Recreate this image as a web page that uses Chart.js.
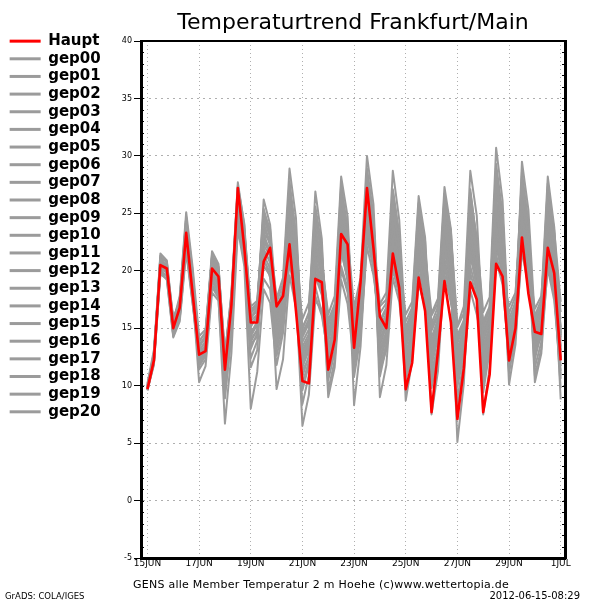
<!DOCTYPE html>
<html>
<head>
<meta charset="utf-8">
<script src="https://cdn.jsdelivr.net/npm/chart.js@4/dist/chart.umd.min.js"></script>
<style>html,body{margin:0;padding:0;background:#fff}#wrap{width:600px;height:600px}</style>
</head>
<body>
<div id="wrap"><canvas id="c" width="600" height="600"></canvas></div>
<script>
// time axis: hours since 15JUN 00Z, 6-hourly
const hours = [0,6,12,18,24,30,36,42,48,54,60,66,72,78,84,90,96,102,108,114,120,126,132,138,144,150,156,162,168,174,180,186,192,198,204,210,216,222,228,234,240,246,252,258,264,270,276,282,288,294,300,306,312,318,324,330,336,342,348,354,360,366,372,378,384];
const xTickHours = [0,48,96,144,192,240,288,336,384];
const xTickLabels = ['15JUN','17JUN','19JUN','21JUN','23JUN','25JUN','27JUN','29JUN','1JUL'];
const yTickValues = [-5,0,5,10,15,20,25,30,35,40];
const seriesNames = ['Haupt','gep00','gep01','gep02','gep03','gep04','gep05','gep06','gep07','gep08','gep09','gep10','gep11','gep12','gep13','gep14','gep15','gep16','gep17','gep18','gep19','gep20'];
const titleText = 'Temperaturtrend Frankfurt/Main';
const footerText = 'GENS alle Member Temperatur 2 m Hoehe (c)www.wettertopia.de';
const gradsText = 'GrADS: COLA/IGES';
const dateText = '2012-06-15-08:29';

const haupt = [9.7,12.2,20.5,20.2, 15.0,16.8,23.3,18.0, 12.7,13.0,20.2,19.5, 11.4,17.0,27.2,22.0, 15.5,15.5,20.8,22.0, 16.9,17.8,22.3,16.5, 10.4,10.2,19.3,19.0, 11.4,14.0,23.2,22.3, 13.3,19.0,27.2,22.0, 16.0,15.0,21.5,18.5, 9.7,12.0,19.4,16.5, 7.7,13.0,19.1,15.5, 7.1,11.5,19.0,17.5, 7.7,11.0,20.6,19.5, 12.2,15.0,22.9,18.0, 14.7,14.5,22.0,19.8, 12.2];
const gep00 = [9.8,12.4,20.6,20.0, 15.2,16.5,22.8,18.4, 12.9,13.4,19.8,18.9, 11.9,16.4,25.9,21.5, 14.8,15.2,21.9,20.7, 14.2,16.8,24.6,19.3, 12.1,13.5,21.2,18.7, 12.8,14.9,23.7,20.1, 14.5,16.2,25.1,21.3, 13.9,15.1,22.8,19.2, 12.6,14.0,21.4,18.3, 10.9,13.2,22.5,19.0, 5.1,10.2,21.7,18.5, 11.8,14.3,25.6,21.2, 13.5,15.7,24.8,20.6, 15.2,16.4,23.1,19.7, 13.4];
const gep01 = [9.7,12.0,20.2,20.4, 14.8,17.1,24.0,19.2, 13.5,14.1,20.9,19.8, 10.2,15.3,24.8,22.6, 16.1,16.4,23.5,21.1, 15.7,17.3,22.1,18.6, 11.3,12.4,19.5,17.9, 14.6,16.3,25.4,22.7, 12.2,15.4,23.8,20.9, 15.3,16.1,24.3,20.6, 8.7,12.2,20.8,18.1, 12.4,14.5,23.9,20.2, 13.3,14.8,24.5,21.6, 9.4,13.1,22.7,20.3, 14.9,16.5,26.2,22.8, 12.7,14.9,21.5,18.9, 15.8];
const gep02 = [9.9,12.6,21.0,19.8, 15.5,16.9,23.6,18.8, 12.1,12.9,19.2,18.4, 12.6,18.1,27.7,23.9, 13.2,14.6,20.4,19.6, 16.4,18.5,26.3,21.4, 13.8,14.9,22.6,20.1, 11.7,13.8,21.6,19.4, 15.6,17.9,27.4,23.6, 12.5,14.2,20.1,17.8, 13.9,15.4,23.2,20.0, 9.8,12.9,20.6,17.7, 11.6,13.9,23.1,20.4, 14.1,15.8,27.9,23.5, 11.4,14.2,21.7,18.6, 16.1,17.5,28.2,23.8, 14.6];
const gep03 = [9.6,12.3,21.3,20.7, 14.6,16.2,22.4,17.7, 13.8,14.7,21.7,20.6, 11.1,15.8,26.4,22.9, 15.9,16.8,24.2,22.4, 13.5,15.9,23.4,18.1, 9.6,11.8,18.6,16.4, 13.9,15.7,26.8,22.5, 8.3,13.4,22.9,20.2, 14.4,15.9,25.7,21.9, 11.2,13.6,22.1,19.3, 13.6,15.3,24.8,21.3, 9.9,12.7,20.4,18.2, 12.9,14.6,24.1,21.0, 15.8,17.3,27.6,23.2, 11.6,13.8,20.2,17.4, 10.9];
const gep04 = [10.1,12.8,20.1,19.5, 15.8,17.4,24.4,19.6, 11.7,12.6,18.8,17.9, 9.3,14.2,24.1,21.2, 12.4,13.9,22.7,21.6, 17.2,18.9,27.8,23.2, 14.9,16.4,26.9,22.8, 10.5,12.9,20.4,18.5, 13.8,16.6,26.2,22.4, 16.3,17.2,23.4,19.9, 10.4,12.8,18.9,16.8, 14.2,15.8,25.6,22.1, 12.5,14.6,22.3,19.4, 10.6,13.5,21.4,19.1, 13.1,15.3,23.6,20.4, 14.6,15.9,25.1,21.6, 12.9];
const gep05 = [9.8,12.5,21.5,20.9, 15.6,17.8,25.1,20.3, 14.3,14.9,21.2,20.1, 12.9,17.5,26.8,23.4, 16.6,17.2,25.4,23.3, 14.8,16.2,21.3,17.6, 10.8,12.6,20.9,19.2, 15.2,16.9,27.1,23.8, 11.6,14.8,24.4,21.5, 13.2,14.7,21.9,18.7, 15.1,16.5,24.7,21.2, 11.3,13.4,21.8,18.8, 8.2,11.4,18.3,16.2, 13.5,15.2,26.3,22.4, 10.1,13.6,22.4,19.5, 13.8,15.4,24.2,20.8, 16.4];
const gep06 = [9.7,11.9,19.8,19.6, 14.4,15.8,22.1,17.4, 12.4,13.2,20.4,19.2, 10.6,16.9,25.4,21.9, 14.1,14.8,19.3,18.4, 12.6,15.1,24.9,20.5, 15.8,17.2,24.4,21.6, 12.3,14.4,22.9,19.7, 16.4,18.7,28.6,24.3, 9.0,11.8,19.4,17.3, 12.1,14.3,23.6,20.7, 15.1,16.4,26.2,22.6, 11.1,13.5,25.7,21.9, 15.3,16.8,28.4,24.1, 12.8,15.0,25.3,21.8, 10.9,13.2,22.8,19.3, 11.7];
const gep07 = [9.9,12.7,20.9,20.3, 14.9,16.7,23.9,19.0, 13.1,13.8,20.7,19.6, 11.6,16.2,26.1,22.2, 15.3,15.9,23.1,22.7, 17.6,19.4,28.9,24.6, 12.7,13.9,21.9,19.5, 14.2,15.9,24.6,21.2, 10.8,14.2,23.3,20.6, 14.9,16.3,26.4,22.3, 13.3,15.1,20.6,17.4, 10.1,12.4,19.7,17.2, 14.4,15.7,27.1,22.5, 11.4,13.9,23.2,20.6, 16.3,17.8,28.1,24.2, 14.1,15.6,21.9,18.4, 9.8];
const gep08 = [9.6,12.1,20.4,20.1, 15.3,16.4,22.6,18.1, 11.4,12.3,18.6,17.6, 6.7,12.8,23.6,20.4, 8.0,11.2,18.4,17.2, 11.8,14.6,20.7,17.4, 8.4,10.9,17.8,16.1, 12.7,14.2,22.4,19.8, 14.1,16.9,25.8,21.7, 11.7,13.6,20.6,18.1, 14.6,15.9,25.4,21.8, 12.9,14.7,24.1,20.9, 10.3,13.1,21.9,19.2, 14.8,16.2,27.2,23.1, 13.9,16.1,29.5,25.3, 15.7,16.8,26.1,22.4, 14.2];
const gep09 = [10.0,12.9,20.7,20.5, 15.9,17.3,24.6,19.9, 13.3,14.4,21.3,20.4, 12.3,17.8,27.3,23.1, 16.3,16.9,25.1,23.6, 15.3,17.1,25.7,21.8, 14.4,15.6,23.8,20.7, 16.2,17.8,28.2,24.7, 13.2,16.1,26.8,23.1, 15.7,16.8,27.1,23.2, 11.7,14.1,22.8,20.1, 13.8,15.6,23.4,20.4, 12.1,14.3,24.6,21.1, 12.4,14.8,25.1,21.9, 15.4,16.9,26.7,22.6, 12.3,14.6,23.6,20.1, 8.8];
const gep10 = [9.8,12.3,19.9,19.2, 14.2,15.6,21.6,17.1, 12.6,13.1,19.6,18.6, 11.3,15.1,24.6,21.7, 11.6,13.1,21.4,20.2, 9.7,12.3,19.6,16.8, 11.9,13.2,20.4,18.4, 13.4,15.2,25.9,22.1, 15.2,17.5,26.6,22.9, 12.9,14.5,23.7,20.4, 14.2,15.8,21.7,18.6, 11.8,14.1,22.9,19.8, 13.7,15.2,26.3,22.8, 16.4,17.7,30.7,26.1, 14.3,16.4,24.1,20.9, 15.9,17.1,27.3,23.5, 17.3];
const gep11 = [9.7,12.2,20.3,19.9, 15.1,16.6,23.1,18.6, 12.3,13.6,20.1,19.3, 10.8,16.6,25.6,22.4, 14.5,15.6,22.2,21.3, 16.1,17.9,23.8,17.9, 6.5,9.2,17.4,16.6, 12.1,13.6,21.9,19.1, 13.6,16.3,24.7,21.1, 16.9,17.5,25.2,21.4, 12.9,14.6,24.2,20.9, 10.6,13.1,21.1,18.4, 8.9,12.1,19.8,17.6, 12.1,14.1,22.8,20.1, 11.1,14.4,23.1,19.9, 13.3,15.1,21.2,18.2, 12.4];
const gep12 = [9.9,12.4,20.8,20.6, 14.7,16.1,22.9,17.9, 10.3,11.7,18.1,17.4, 8.9,14.6,24.4,21.1, 13.6,14.3,20.9,19.9, 14.5,16.4,22.6,18.9, 13.4,14.5,22.1,20.3, 9.6,12.2,20.1,18.1, 12.9,15.9,23.6,20.4, 14.1,15.4,22.4,19.5, 15.6,16.8,25.9,22.6, 12.1,14.2,22.2,19.4, 10.8,13.2,23.4,20.2, 7.5,11.6,20.9,18.8, 12.4,14.9,24.6,21.4, 14.9,16.2,25.6,21.9, 15.1];
const gep13 = [9.8,12.6,21.1,20.8, 15.4,17.6,24.7,19.4, 13.9,14.6,21.0,20.0, 12.1,17.2,26.6,23.6, 16.9,17.4,24.6,22.9, 15.0,16.6,24.1,20.2, 12.4,13.7,23.1,20.9, 14.8,16.5,26.3,22.9, 16.8,19.4,30.0,25.8, 13.5,15.2,24.9,21.6, 12.3,14.8,24.9,21.5, 15.4,16.9,25.1,21.7, 12.9,14.9,22.7,19.9, 13.2,15.0,24.6,21.4, 14.6,16.7,27.9,23.6, 13.1,14.7,26.7,22.7, 13.9];
const gep14 = [9.6,11.8,19.7,19.3, 14.3,15.9,21.9,17.2, 11.9,12.7,19.4,18.2, 9.8,15.6,25.1,22.1, 15.8,16.6,26.2,24.0, 16.8,18.2,25.3,20.8, 11.6,13.1,20.7,18.9, 15.7,17.1,24.2,20.6, 12.6,15.7,25.5,22.1, 10.8,13.4,23.1,20.6, 13.6,15.2,22.5,19.6, 14.8,16.1,26.7,23.4, 15.1,16.3,23.9,20.6, 11.1,13.4,22.1,19.6, 16.9,18.1,25.9,21.6, 10.3,12.8,20.7,17.8, 11.3];
const gep15 = [10.2,13.1,21.2,20.2, 15.7,17.2,23.4,18.3, 12.8,13.5,20.5,19.1, 11.2,16.8,26.3,22.8, 14.6,15.4,22.9,21.9, 13.2,15.6,23.1,19.6, 15.1,16.2,25.6,22.1, 11.2,13.1,22.6,20.4, 14.9,17.2,27.9,23.8, 14.7,15.8,24.6,20.8, 16.2,17.3,26.5,22.9, 13.1,14.9,23.6,20.6, 14.1,15.6,25.4,21.4, 12.7,14.9,23.9,20.9, 12.9,15.5,22.6,19.2, 14.4,15.7,23.9,20.4, 16.9];
const gep16 = [9.7,12.5,20.6,19.7, 14.5,16.3,23.3,18.7, 13.6,14.2,20.8,19.9, 11.8,16.1,25.3,21.4, 13.8,14.9,21.6,20.9, 15.9,17.6,26.8,22.6, 14.2,15.4,23.4,20.5, 13.1,15.4,23.4,20.9, 15.9,18.1,28.3,24.6, 12.1,14.1,22.1,19.1, 10.9,13.3,19.8,17.9, 16.1,17.2,26.3,22.9, 15.2,16.9,28.7,24.8, 14.4,16.1,25.9,22.8, 13.2,15.8,24.3,20.8, 16.7,17.8,24.8,20.6, 12.5];
const gep17 = [10.0,12.7,20.0,20.0, 14.9,16.9,22.3,17.8, 12.2,13.0,19.1,18.1, 10.1,15.7,25.0,21.6, 15.1,16.1,23.8,22.2, 14.1,16.0,22.9,19.1, 13.1,14.2,21.5,19.7, 9.0,11.6,19.2,17.1, 11.9,14.5,22.1,19.6, 15.5,16.6,26.9,22.9, 12.6,14.5,21.1,18.4, 13.4,15.2,22.7,19.6, 13.9,15.4,21.2,18.9, 15.6,16.9,28.8,24.6, 14.1,16.0,23.4,20.1, 12.9,14.3,24.4,21.1, 14.8];
const gep18 = [9.8,12.2,20.2,20.3, 15.0,17.0,24.3,19.1, 13.0,13.9,20.6,19.4, 12.4,17.6,27.0,23.2, 16.4,17.0,24.9,23.1, 15.5,17.0,25.1,21.1, 12.9,14.1,22.3,19.8, 14.1,16.1,25.1,21.7, 14.3,17.3,26.0,22.6, 17.1,18.1,28.7,24.4, 14.4,15.7,23.8,20.3, 12.6,14.4,24.4,21.2, 11.4,13.8,22.1,19.6, 13.9,15.6,25.3,22.1, 15.1,16.8,26.9,23.1, 15.5,16.6,25.3,21.5, 13.1];
const gep19 = [9.7,12.0,20.5,20.0, 14.7,16.0,22.7,18.2, 12.5,13.3,19.9,18.8, 11.5,16.3,25.7,21.8, 14.3,15.3,21.1,19.4, 13.9,15.4,21.8,17.7, 10.2,12.1,19.9,18.2, 12.5,14.6,22.1,19.3, 15.4,17.8,27.1,23.4, 11.3,13.1,21.2,18.6, 11.5,13.8,22.3,19.1, 7.5,11.3,20.3,17.9, 12.3,14.2,21.6,19.1, 10.2,12.9,22.4,19.9, 11.8,14.6,23.8,20.2, 14.2,15.3,22.9,19.6, 10.6];
const gep20 = [9.9,12.8,20.8,20.4, 15.4,17.5,24.1,19.5, 13.4,14.3,21.4,20.3, 12.7,17.9,27.4,24.1, 15.6,16.2,22.4,21.7, 16.6,18.1,27.3,22.9, 14.6,15.8,24.9,21.3, 15.4,16.7,27.6,23.3, 14.7,17.1,28.9,24.8, 13.7,15.5,25.8,22.1, 14.9,16.2,25.1,21.7, 16.3,17.6,27.3,23.6, 12.7,14.4,26.8,22.7, 15.1,16.6,29.3,24.9, 13.6,16.2,28.6,24.1, 13.6,15.5,27.6,23.2, 14.4];

const seriesValues = [haupt,gep00,gep01,gep02,gep03,gep04,gep05,gep06,gep07,gep08,gep09,gep10,gep11,gep12,gep13,gep14,gep15,gep16,gep17,gep18,gep19,gep20];

const RED = 'rgb(255,0,0)';
const GRAY = 'rgb(155,155,155)';
const GRID = 'rgb(175,175,175)';
const PLOT = {left: 141, right: 565, top: 41, bottom: 558};
const PAD_LEFT = 7;

const datasets = seriesNames.map((name, k) => ({
  label: name,
  data: seriesValues[k],
  borderColor: k === 0 ? RED : GRAY,
  backgroundColor: k === 0 ? RED : GRAY,
  borderWidth: k === 0 ? 2.6 : 2,
  pointRadius: 0,
  pointHoverRadius: 0,
  tension: 0,
  borderJoinStyle: 'round',
  fill: false,
  xAxisID: 'x',
  yAxisID: 'y'
}));

const extrasPlugin = {
  id: 'extras',
  afterDraw(chart) {
    const c = chart.ctx;
    const ys = chart.scales.y;
    const a = chart.chartArea;
    c.save();
    // minor ticks every degree on the left and right frame, pointing inwards
    c.strokeStyle = '#000';
    c.lineWidth = 1;
    c.beginPath();
    for (let v = -5; v <= 40; v++) {
      const py = Math.round(ys.getPixelForValue(v)) + 0.5;
      c.moveTo(a.left, py); c.lineTo(a.left + 3, py);
      c.moveTo(a.right - 3, py); c.lineTo(a.right, py);
    }
    c.stroke();
    // footer texts
    c.fillStyle = '#000';
    c.textBaseline = 'alphabetic';
    c.textAlign = 'left';
    c.font = '11px "DejaVu Sans"';
    c.letterSpacing = '0.25px';
    c.fillText(footerText, 133, 588);
    c.letterSpacing = '0px';
    c.font = '8.5px "DejaVu Sans"';
    c.fillText(gradsText, 5, 599);
    c.textAlign = 'right';
    c.font = '10px "DejaVu Sans"';
    c.fillText(dateText, 580, 599);
    c.restore();
  }
};

new Chart(document.getElementById('c'), {
  type: 'line',
  data: { labels: hours, datasets },
  plugins: [extrasPlugin],
  options: {
    responsive: false,
    animation: false,
    devicePixelRatio: 1,
    events: [],
    layout: { padding: { left: PAD_LEFT, top: 31, right: 600 - PLOT.right, bottom: 0 } },
    plugins: {
      tooltip: { enabled: false },
      title: {
        display: true,
        text: titleText,
        color: '#000',
        fullSize: false,
        font: { family: 'DejaVu Sans', size: 22, weight: 'normal', lineHeight: 1.2 },
        padding: { top: -20.7, bottom: 4.3 }
      },
      legend: {
        display: true,
        position: 'left',
        align: 'start',
        fullSize: true,
        labels: {
          color: '#000',
          boxWidth: 31,
          boxHeight: 3,
          padding: 2.65,
          font: { family: 'DejaVu Sans', size: 15, weight: 'bold' },
          generateLabels(chart) {
            const items = Chart.defaults.plugins.legend.labels.generateLabels(chart);
            items.forEach(it => { it.fillStyle = it.strokeStyle; it.lineWidth = 0; });
            return items;
          }
        }
      }
    },
    scales: {
      x: {
        type: 'linear',
        position: 'bottom',
        min: -6,
        max: 388,
        afterBuildTicks(s) { s.ticks = xTickHours.map(v => ({ value: v })); },
        afterFit(s) { s.height = 600 - PLOT.bottom; },
        ticks: {
          autoSkip: false, maxRotation: 0, minRotation: 0, padding: 0,
          color: '#000',
          font: { family: 'DejaVu Sans', size: 9 },
          callback(v) { const i = xTickHours.indexOf(v); return i >= 0 ? xTickLabels[i] : ''; }
        },
        grid: { display: true, color: GRID, lineWidth: 1, drawTicks: false },
        border: { display: true, color: '#000', width: 3, dash: [1, 3] }
      },
      y: {
        type: 'linear',
        position: 'left',
        min: -5,
        max: 40,
        afterBuildTicks(s) { s.ticks = yTickValues.map(v => ({ value: v })); },
        afterFit(s) {
          const lw = (s.chart.legend && s.chart.legend.width) ? s.chart.legend.width : 100;
          s.width = PLOT.left - PAD_LEFT - lw;
        },
        ticks: {
          color: '#000', padding: 2,
          font: { family: 'DejaVu Sans', size: 8 }
        },
        grid: { display: true, color: GRID, lineWidth: 1, tickColor: '#000', tickLength: 7, tickWidth: 1 },
        border: { display: true, color: '#000', width: 3, dash: [2, 4] }
      },
      xTop: {
        type: 'linear', position: 'top', min: -6, max: 388,
        afterFit(s) { s.height = 0; },
        ticks: { display: false },
        grid: { display: false, drawTicks: false },
        border: { display: true, color: '#000', width: 2 }
      },
      yRight: {
        type: 'linear', position: 'right', min: -5, max: 40,
        afterFit(s) { s.width = 0; },
        ticks: { display: false },
        grid: { display: false, drawTicks: false },
        border: { display: true, color: '#000', width: 3 }
      }
    }
  }
});
</script>
</body>
</html>
